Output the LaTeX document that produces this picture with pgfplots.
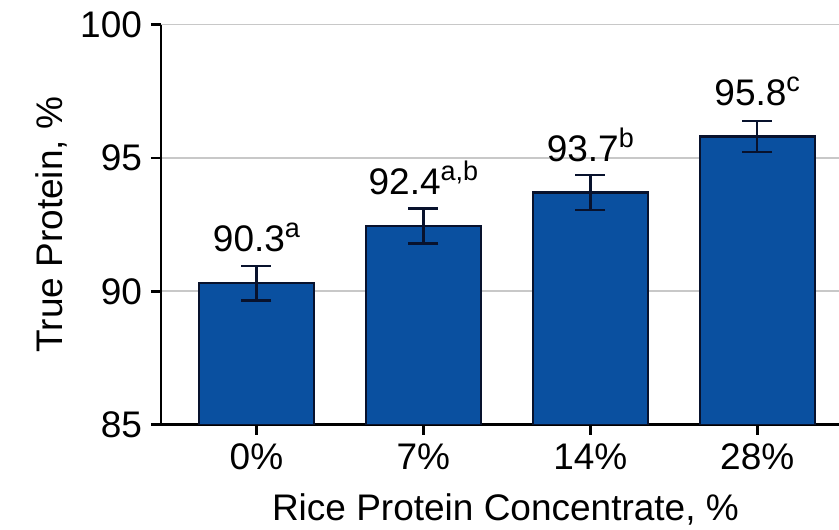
\documentclass[border=0pt]{standalone}
\usepackage{pgfplots}
\pgfplotsset{compat=1.18}
\usepackage{fontspec}
\setmainfont{Liberation Sans}
\definecolor{barfill}{RGB}{10,80,160}
\definecolor{baredge}{RGB}{8,18,45}
\definecolor{gridc}{RGB}{200,200,200}
\newcommand{\sups}[1]{\raisebox{7pt}{\fontsize{13.5}{13.5}\selectfont #1}}
\pgfplotstableread{
x y e lab
0 90.3 0.65 90.3\sups{a}
1 92.45 0.66 92.4\sups{a,b}
2 93.7 0.65 93.7\sups{b}
3 95.8 0.58 95.8\sups{c}
}\datatab
\begin{document}
\begin{tikzpicture}
\begin{axis}[name=ax, scale only axis, width=339pt, height=200pt,
  xmin=-0.572, xmax=3.49, ymin=85, ymax=100,
  axis lines*=left, axis line style={line width=1.4pt, black},
  xtick={0,1,2,3}, xticklabels={0\%,7\%,14\%,28\%},
  ytick={85,90,95,100},
  tick align=outside, major tick length=5pt,
  tick style={line width=1.4pt, black},
  ymajorgrids, grid style={gridc, line width=0.8pt},
  /pgf/number format/assume math mode=true,
  tick label style={font=\fontsize{18.5}{18.5}\selectfont},
  xticklabel style={yshift=-1pt},
  yticklabel style={xshift=-1pt},
  ylabel={True Protein, \%},
  xlabel={Rice Protein Concentrate, \%},
  label style={font=\fontsize{18.5}{18.5}\selectfont},
  ylabel style={at={(axis description cs:-0.162,0.5)}, anchor=center},
  xlabel style={at={(axis description cs:0.508,0)}, anchor=base, yshift=-48pt},
]
\addplot[ybar, bar width=57.5pt, fill=barfill, draw=baredge, line width=1.1pt,
  point meta=explicit symbolic,
  nodes near coords,
  nodes near coords style={font=\fontsize{18.5}{18.5}\selectfont, text=black, anchor=south, inner sep=0pt, yshift=15pt},
  error bars/.cd, y dir=both, y explicit,
  error bar style={line width=1.2pt, baredge},
  error mark options={rotate=90, mark size=7.5pt, line width=1.2pt, baredge}]
  table[x=x, y=y, y error=e, meta=lab] {\datatab};
\end{axis}
\pgfresetboundingbox
\path[use as bounding box] ([xshift=-80.5pt,yshift=-52.5pt]ax.south west) rectangle ([yshift=12.3pt]ax.north east);
\end{tikzpicture}
\end{document}
